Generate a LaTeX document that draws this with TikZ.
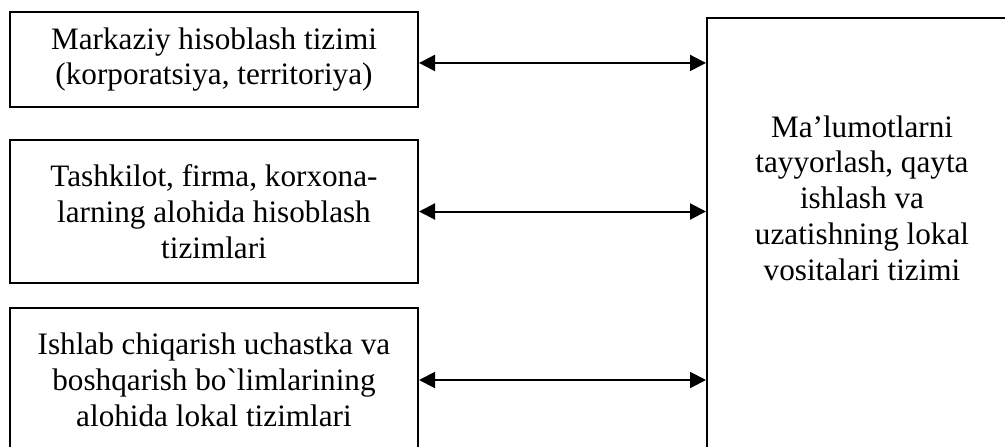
\documentclass[tikz,border=0pt]{standalone}
\usepackage{fontspec}
\setmainfont{Liberation Serif}
\usetikzlibrary{arrows.meta}

\begin{document}
\begin{tikzpicture}[x=0.75pt,y=-0.75pt,line width=1.5pt,>={Triangle[length=12pt,width=12pt]},
    box/.style={draw,minimum width=306pt,align=center,inner sep=0pt},
    txt/.style={align=center,font=\fontsize{23.4}{26.8}\selectfont}]
  \path[use as bounding box] (0,0) rectangle (1005,446);
  \clip (0,0) rectangle (1005,446);
  % levels on the left
  \node[box,txt,minimum height=71.25pt] (central) at (214,59.5)
    {Markaziy hisoblash tizimi\\(korporatsiya, territoriya)};
  \node[box,txt,minimum height=107.25pt] (firma) at (214,211.5)
    {Tashkilot, firma, korxona-\\larning alohida hisoblash\\tizimlari};
  \node[box,txt,minimum height=108pt] (uchastka) at (214,380)
    {Ishlab chiqarish uchastka va\\boshqarish bo\textasciigrave limlarining\\alohida lokal tizimlari};
  % local tools block, runs off the page
  \node[draw,line width=1.2pt,minimum width=240pt,minimum height=345pt,anchor=north west,inner sep=0pt] (lokal) at (706,17) {};
  \node[txt] (lokaltxt) at (862,198)
    {Ma’lumotlarni\\tayyorlash, qayta\\ishlash va\\uzatishning lokal\\vositalari tizimi};
  % two-way links
  \draw[<->] ([yshift=-2.6pt]central.east) -- ([yshift=-2.6pt]central.east -| lokal.west);
  \draw[<->] (firma.east) -- (firma.east -| lokal.west);
  \draw[<->] (uchastka.east) -- (uchastka.east -| lokal.west);
\end{tikzpicture}
\end{document}
